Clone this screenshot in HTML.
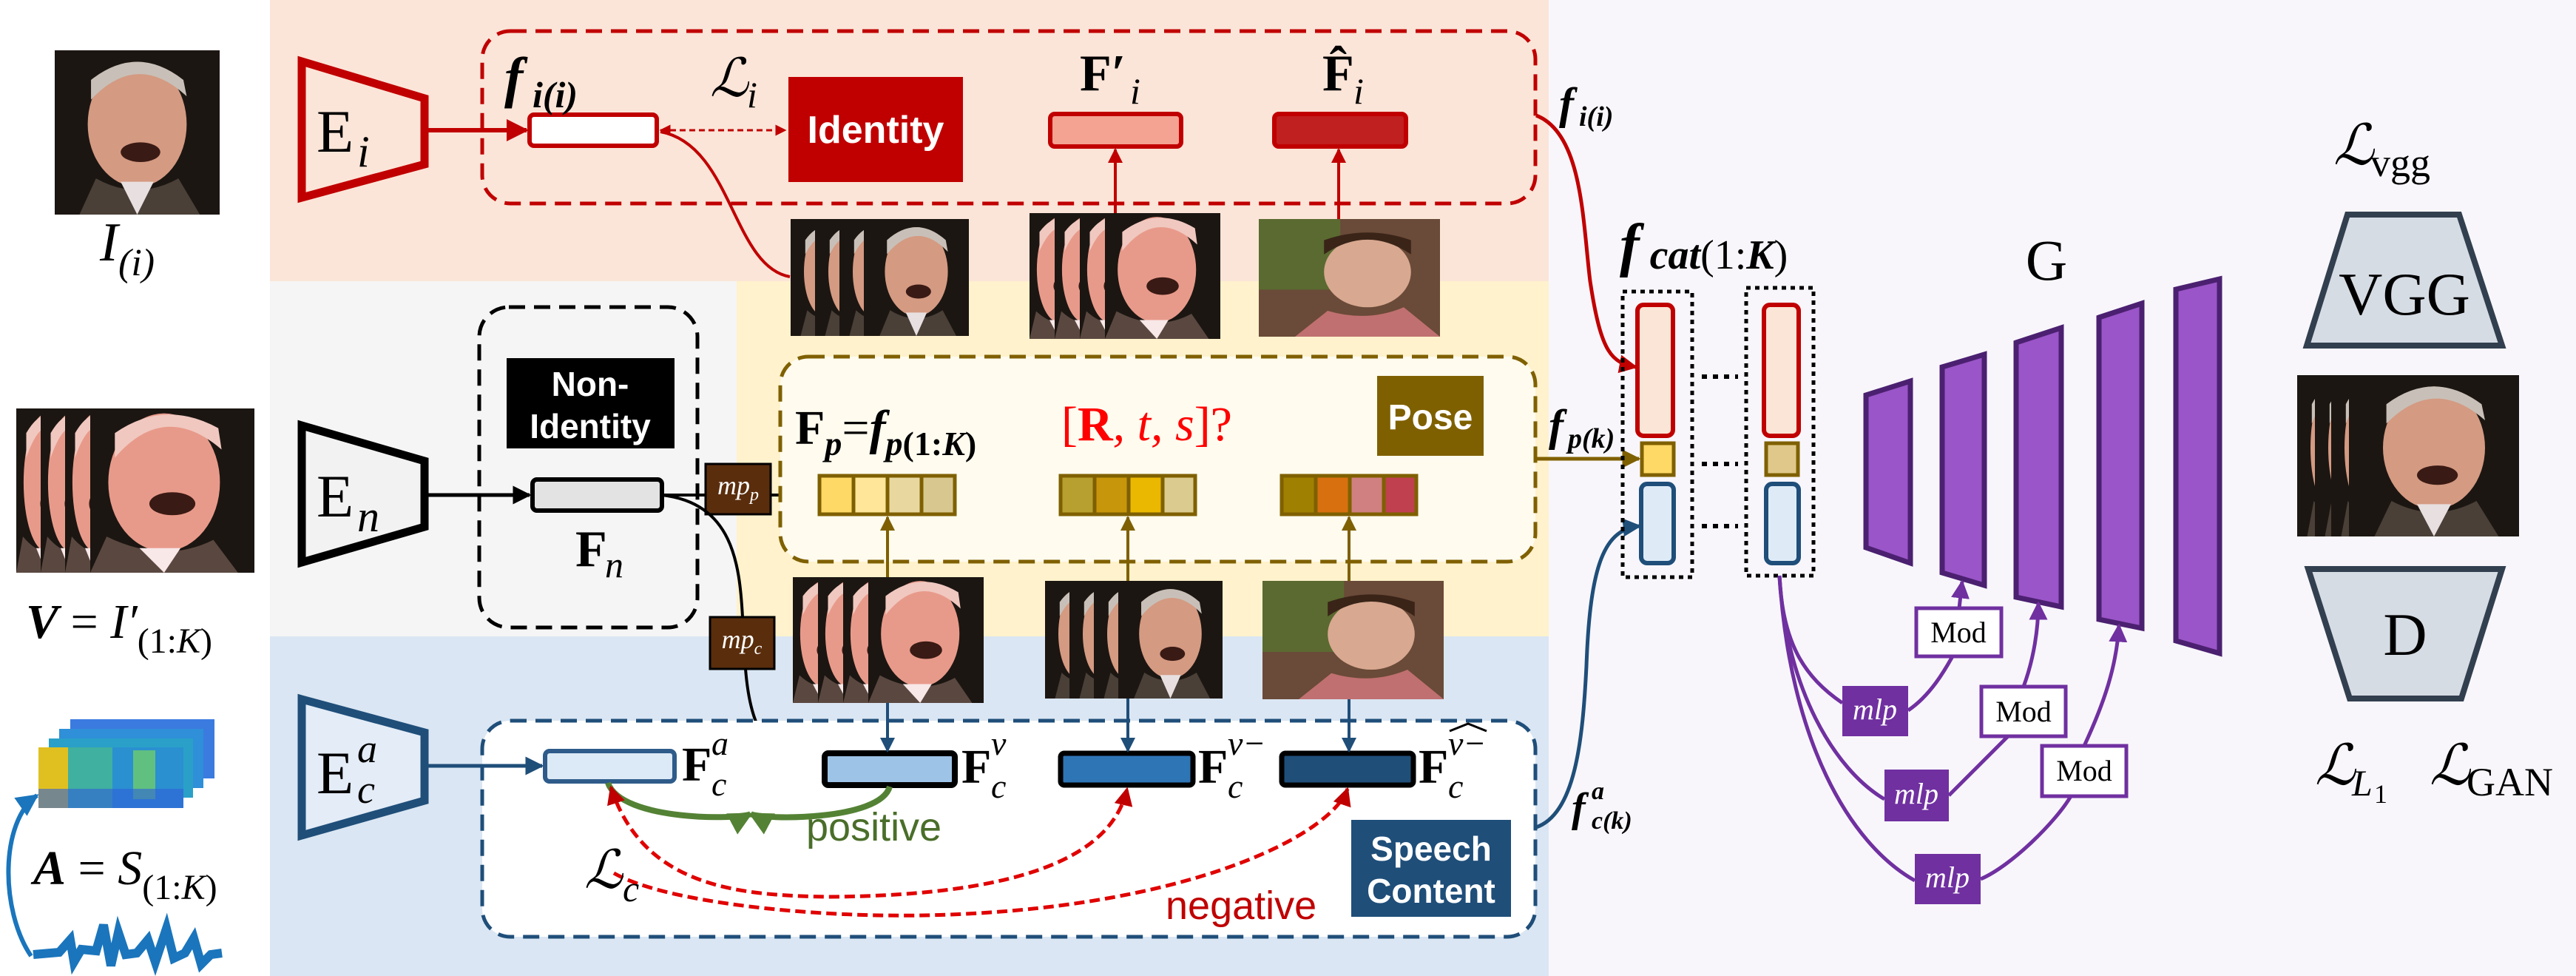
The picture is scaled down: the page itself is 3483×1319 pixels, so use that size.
<!DOCTYPE html>
<html><head><meta charset="utf-8"><style>
html,body{margin:0;padding:0;background:#fff}
svg{display:block}
.m{font-family:"Liberation Serif",serif;font-style:italic}
.r{font-family:"Liberation Serif",serif}
.s{font-family:"Liberation Sans Narrow","Liberation Sans",sans-serif;font-weight:bold}
</style></head><body>
<svg width="3483" height="1319" viewBox="0 0 3483 1319" xmlns="http://www.w3.org/2000/svg">
<defs>
<marker id="ar" viewBox="0 0 10 10" refX="9" refY="5" markerWidth="5" markerHeight="5" orient="auto-start-reverse"><path d="M0,0L10,5L0,10z" fill="#c00000"/></marker>
<marker id="ak" viewBox="0 0 10 10" refX="9" refY="5" markerWidth="5" markerHeight="5" orient="auto-start-reverse"><path d="M0,0L10,5L0,10z" fill="#000"/></marker>
<marker id="ao" viewBox="0 0 10 10" refX="9" refY="5" markerWidth="5" markerHeight="5" orient="auto-start-reverse"><path d="M0,0L10,5L0,10z" fill="#7f6000"/></marker>
<marker id="ab" viewBox="0 0 10 10" refX="9" refY="5" markerWidth="5" markerHeight="5" orient="auto-start-reverse"><path d="M0,0L10,5L0,10z" fill="#1f4e79"/></marker>
<marker id="ab2" viewBox="0 0 10 10" refX="9" refY="5" markerWidth="5" markerHeight="5" orient="auto-start-reverse"><path d="M0,0L10,5L0,10z" fill="#1a75bc"/></marker>
<marker id="ag" viewBox="0 0 10 10" refX="9" refY="5" markerWidth="4" markerHeight="4" orient="auto-start-reverse"><path d="M0,0L10,5L0,10z" fill="#548235"/></marker>
<marker id="ap" viewBox="0 0 10 10" refX="9" refY="5" markerWidth="5" markerHeight="5" orient="auto-start-reverse"><path d="M0,0L10,5L0,10z" fill="#7030a0"/></marker>
<symbol id="old" viewBox="0 0 100 100" preserveAspectRatio="none">
<rect width="100" height="100" fill="#1c1612"/>
<ellipse cx="50" cy="45" rx="30" ry="38" fill="#d49a82"/>
<path d="M22,30 Q50,0 80,28 L78,18 Q50,-4 22,18z" fill="#c8c0b8"/>
<path d="M15,100 L25,78 Q50,92 75,78 L88,100z" fill="#4a4038"/>
<path d="M40,80 L50,100 L60,80z" fill="#e8e0e0"/>
<ellipse cx="52" cy="62" rx="12" ry="6" fill="#3a1a14"/>
</symbol>
<symbol id="oldp" viewBox="0 0 100 100" preserveAspectRatio="none">
<rect width="100" height="100" fill="#1c1612"/>
<ellipse cx="45" cy="45" rx="34" ry="42" fill="#e89a8a"/>
<path d="M15,30 Q45,-5 80,25 L78,12 Q45,-6 15,15z" fill="#f0c8c0"/>
<path d="M0,100 L10,78 Q45,95 75,80 L90,100z" fill="#5a4840"/>
<path d="M30,85 L45,100 L55,85z" fill="#f8e8e8"/>
<ellipse cx="50" cy="58" rx="14" ry="7" fill="#3a1a14"/>
</symbol>
<symbol id="young" viewBox="0 0 100 100" preserveAspectRatio="none">
<rect width="100" height="100" fill="#6a4a38"/>
<rect width="45" height="60" fill="#5a6a30"/>
<ellipse cx="60" cy="45" rx="24" ry="30" fill="#d8a890"/>
<path d="M36,30 Q60,5 84,30 L84,18 Q60,5 36,18z" fill="#3a2418"/>
<path d="M20,100 L38,78 Q60,88 80,75 L100,100z" fill="#c07070"/>
</symbol>
</defs>

<rect x="0" y="0" width="3483" height="1319" fill="#fff"/>
<rect x="2094" y="0" width="1389" height="1319" fill="#f8f6fb"/>
<rect x="365" y="0" width="1729" height="380" fill="#fbe5d8"/>
<rect x="365" y="380" width="631" height="480" fill="#f5f5f5"/>
<rect x="996" y="380" width="1098" height="480" fill="#fff2cc"/>
<rect x="365" y="860" width="1729" height="459" fill="#dae6f3"/>

<use href="#old" x="74" y="68" width="223" height="222"/>
<text class="m" x="135" y="352" font-size="74">I</text><text class="m" x="160" y="372" font-size="52">(i)</text>
<use href="#oldp" x="22" y="552" width="90" height="222"/>
<use href="#oldp" x="55" y="552" width="90" height="222"/>
<use href="#oldp" x="88" y="552" width="90" height="222"/>
<use href="#oldp" x="122" y="552" width="222" height="222"/>
<text x="35" y="862" font-size="66"><tspan class="m" font-weight="bold">V</tspan><tspan class="r"> = </tspan><tspan class="m">I′</tspan><tspan class="r" font-size="48" dy="20">(1:</tspan><tspan class="m" font-size="48">K</tspan><tspan class="r" font-size="48">)</tspan></text>
<g>
<rect x="95" y="972" width="195" height="80" fill="#3b7be0"/>
<rect x="80" y="985" width="195" height="80" fill="#2f8fd8"/>
<rect x="66" y="998" width="195" height="80" fill="#2aa0c8"/>
<rect x="52" y="1010" width="196" height="82" fill="#2a90d0"/>
<rect x="52" y="1010" width="40" height="82" fill="#e0c020"/>
<rect x="92" y="1010" width="60" height="82" fill="#40b0a0"/>
<rect x="180" y="1014" width="30" height="66" fill="#60c080"/>
<rect x="52" y="1066" width="196" height="26" fill="#3060d8" opacity="0.6"/>
</g>
<text x="45" y="1195" font-size="66"><tspan class="m" font-weight="bold">A</tspan><tspan class="r"> = </tspan><tspan class="m">S</tspan><tspan class="r" font-size="48" dy="20">(1:</tspan><tspan class="m" font-size="48">K</tspan><tspan class="r" font-size="48">)</tspan></text>
<path d="M45,1290 L80,1287 L95,1270 L100,1300 L110,1283 L130,1285 L140,1250 L150,1305 L160,1260 L170,1290 L185,1288 L200,1270 L210,1300 L225,1255 L235,1295 L250,1288 L262,1268 L272,1303 L285,1290 L300,1288" stroke="#1a75bc" stroke-width="12" fill="none"/>
<path d="M42,1292 C0,1230 0,1110 50,1075" stroke="#1a75bc" stroke-width="6" fill="none" marker-end="url(#ab2)"/>

<path d="M408,83 L574,133 L574,222 L408,267z" fill="#fbe5d8" stroke="#c00000" stroke-width="11"/>
<text class="r" x="428" y="205" font-size="82">E</text><text class="m" x="483" y="225" font-size="60">i</text>
<path d="M408,575 L574,623 L574,712 L408,760z" fill="#f2f2f2" stroke="#000" stroke-width="11"/>
<text class="r" x="428" y="698" font-size="82">E</text><text class="m" x="483" y="718" font-size="60">n</text>
<path d="M408,945 L574,990 L574,1082 L408,1129z" fill="#e3ecf7" stroke="#1f4e79" stroke-width="11"/>
<text class="r" x="428" y="1072" font-size="82">E</text><text class="m" x="483" y="1030" font-size="54">a</text><text class="m" x="483" y="1085" font-size="54">c</text>

<rect x="652" y="42" width="1424" height="233" rx="38" fill="none" stroke="#c00000" stroke-width="5" stroke-dasharray="22,12"/>
<line x1="579" y1="176" x2="712" y2="176" stroke="#c00000" stroke-width="6" marker-end="url(#ar)"/>
<rect x="716" y="155" width="172" height="42" rx="6" fill="#fff" stroke="#c00000" stroke-width="6"/>
<text class="m" x="682" y="130" font-size="76" font-weight="bold">f</text><text class="m" x="720" y="145" font-size="50" font-weight="bold">i(i)</text>
<text class="m" x="960" y="130" font-size="72">ℒ</text><text class="m" x="1010" y="145" font-size="50">i</text>
<line x1="893" y1="176" x2="1062" y2="176" stroke="#c00000" stroke-width="3" stroke-dasharray="8,5" marker-start="url(#ar)" marker-end="url(#ar)"/>
<rect x="1066" y="104" width="236" height="142" fill="#c00000"/>
<text class="s" x="1184" y="193" font-size="52" fill="#fff" text-anchor="middle">Identity</text>
<text class="r" x="1460" y="122" font-size="70" font-weight="bold">F′</text><text class="m" x="1528" y="140" font-size="50">i</text>
<rect x="1420" y="154" width="177" height="44" rx="6" fill="#f4a292" stroke="#c00000" stroke-width="6"/>
<text class="r" x="1788" y="122" font-size="70" font-weight="bold">F̂</text><text class="m" x="1830" y="140" font-size="50">i</text>
<rect x="1723" y="154" width="178" height="44" rx="6" fill="#c0201f" stroke="#c00000" stroke-width="6"/>
<line x1="1508" y1="290" x2="1508" y2="202" stroke="#c00000" stroke-width="4" marker-end="url(#ar)"/>
<line x1="1810" y1="296" x2="1810" y2="202" stroke="#c00000" stroke-width="4" marker-end="url(#ar)"/>
<path d="M1068,374 C990,360 990,196 893,178" stroke="#c00000" stroke-width="4" fill="none"/>
<use href="#old" x="1069" y="296" width="90" height="158"/>
<use href="#old" x="1102" y="296" width="90" height="158"/>
<use href="#old" x="1135" y="296" width="90" height="158"/>
<use href="#old" x="1168" y="296" width="142" height="158"/>
<use href="#oldp" x="1392" y="288" width="90" height="170"/>
<use href="#oldp" x="1426" y="288" width="90" height="170"/>
<use href="#oldp" x="1460" y="288" width="90" height="170"/>
<use href="#oldp" x="1494" y="288" width="156" height="170"/>
<use href="#young" x="1702" y="296" width="245" height="159"/>

<rect x="648" y="415" width="295" height="433" rx="40" fill="none" stroke="#000" stroke-width="5" stroke-dasharray="22,12"/>
<rect x="685" y="484" width="227" height="122" fill="#000"/>
<text class="s" x="798" y="535" font-size="46" fill="#fff" text-anchor="middle">Non-</text>
<text class="s" x="798" y="592" font-size="46" fill="#fff" text-anchor="middle">Identity</text>
<line x1="579" y1="669" x2="716" y2="669" stroke="#000" stroke-width="5" marker-end="url(#ak)"/>
<rect x="720" y="648" width="175" height="42" rx="6" fill="#e3e3e3" stroke="#000" stroke-width="6"/>
<text class="r" x="778" y="765" font-size="70" font-weight="bold">F</text><text class="m" x="818" y="780" font-size="50">n</text>
<line x1="895" y1="669" x2="954" y2="669" stroke="#000" stroke-width="4"/>
<rect x="954" y="627" width="88" height="68" fill="#5a2d0c" stroke="#000" stroke-width="3"/>
<text class="m" x="998" y="668" font-size="36" fill="#fff" text-anchor="middle">mp<tspan font-size="24" dy="8">p</tspan></text>
<line x1="1042" y1="669" x2="1104" y2="669" stroke="#000" stroke-width="4" marker-end="url(#ak)"/>
<path d="M895,669 C990,680 1000,760 1004,834" stroke="#000" stroke-width="4" fill="none"/>
<rect x="960" y="834" width="87" height="70" fill="#5a2d0c" stroke="#000" stroke-width="3"/>
<text class="m" x="1003" y="876" font-size="36" fill="#fff" text-anchor="middle">mp<tspan font-size="24" dy="8">c</tspan></text>
<path d="M1008,904 C1015,990 1040,1030 1110,1038" stroke="#000" stroke-width="4" fill="none" marker-end="url(#ak)"/>

<rect x="1055" y="482" width="1021" height="277" rx="38" fill="#fffbef" stroke="#7f6000" stroke-width="5" stroke-dasharray="22,12"/>
<text x="1075" y="600" font-size="66"><tspan class="r" font-weight="bold">F</tspan><tspan class="m" font-size="46" dy="15" font-weight="bold">p</tspan><tspan class="r" dy="-15">=</tspan><tspan class="m" font-weight="bold">f</tspan><tspan class="m" font-size="46" dy="15" font-weight="bold">p</tspan><tspan class="r" font-size="46" font-weight="bold">(1:</tspan><tspan class="m" font-size="46" font-weight="bold">K</tspan><tspan class="r" font-size="46" font-weight="bold">)</tspan></text>
<text x="1435" y="595" font-size="66" fill="#ff0000"><tspan class="r">[</tspan><tspan class="r" font-weight="bold">R</tspan><tspan class="m">, t, s</tspan><tspan class="r">]?</tspan></text>
<rect x="1862" y="508" width="144" height="108" fill="#7f6000"/>
<text class="s" x="1934" y="580" font-size="48" fill="#fff" text-anchor="middle">Pose</text>
<g stroke="#7f6000" stroke-width="5">
<rect x="1108" y="643" width="46" height="52" fill="#ffd966"/><rect x="1154" y="643" width="46" height="52" fill="#ffe699"/><rect x="1200" y="643" width="46" height="52" fill="#e8d8a0"/><rect x="1246" y="643" width="45" height="52" fill="#d8c890"/>
<rect x="1434" y="643" width="46" height="52" fill="#b8a030"/><rect x="1480" y="643" width="46" height="52" fill="#c8960a"/><rect x="1526" y="643" width="46" height="52" fill="#eab800"/><rect x="1572" y="643" width="44" height="52" fill="#dccb8e"/>
<rect x="1733" y="643" width="46" height="52" fill="#a08000"/><rect x="1779" y="643" width="46" height="52" fill="#d87010"/><rect x="1825" y="643" width="46" height="52" fill="#d08080"/><rect x="1871" y="643" width="44" height="52" fill="#c04050"/>
</g>
<line x1="1200" y1="782" x2="1200" y2="699" stroke="#7f6000" stroke-width="4" marker-end="url(#ao)"/>
<line x1="1525" y1="786" x2="1525" y2="699" stroke="#7f6000" stroke-width="4" marker-end="url(#ao)"/>
<line x1="1824" y1="786" x2="1824" y2="699" stroke="#7f6000" stroke-width="4" marker-end="url(#ao)"/>
<use href="#oldp" x="1072" y="780" width="90" height="170"/>
<use href="#oldp" x="1106" y="780" width="90" height="170"/>
<use href="#oldp" x="1140" y="780" width="90" height="170"/>
<use href="#oldp" x="1174" y="780" width="156" height="170"/>
<use href="#old" x="1413" y="785" width="90" height="159"/>
<use href="#old" x="1446" y="785" width="90" height="159"/>
<use href="#old" x="1479" y="785" width="90" height="159"/>
<use href="#old" x="1512" y="785" width="141" height="159"/>
<use href="#young" x="1707" y="785" width="245" height="160"/>

<rect x="652" y="974" width="1424" height="292" rx="38" fill="#fff" stroke="#1f4e79" stroke-width="5" stroke-dasharray="22,12"/>
<line x1="579" y1="1035" x2="733" y2="1035" stroke="#1f4e79" stroke-width="5" marker-end="url(#ab)"/>
<rect x="737" y="1015" width="175" height="41" rx="6" fill="#dce9f6" stroke="#2e5b8a" stroke-width="6"/>
<rect x="1115" y="1018" width="176" height="43" rx="5" fill="#9dc3e6" stroke="#000" stroke-width="8"/>
<rect x="1434" y="1018" width="179" height="43" rx="5" fill="#2e75b6" stroke="#000" stroke-width="7"/>
<rect x="1733" y="1018" width="178" height="43" rx="5" fill="#1f4e79" stroke="#000" stroke-width="7"/>
<line x1="1200" y1="950" x2="1200" y2="1015" stroke="#1f4e79" stroke-width="4" marker-end="url(#ab)"/>
<line x1="1525" y1="944" x2="1525" y2="1015" stroke="#1f4e79" stroke-width="4" marker-end="url(#ab)"/>
<line x1="1824" y1="945" x2="1824" y2="1015" stroke="#1f4e79" stroke-width="4" marker-end="url(#ab)"/>
<g class="r" font-weight="bold" font-size="66">
<text x="922" y="1055">F</text><text x="1300" y="1058">F</text><text x="1620" y="1058">F</text><text x="1918" y="1058">F</text></g>
<g class="m" font-size="46">
<text x="962" y="1020">a</text><text x="962" y="1075">c</text>
<text x="1340" y="1020">v</text><text x="1340" y="1078">c</text>
<text x="1660" y="1020">v−</text><text x="1660" y="1078">c</text>
<text x="1958" y="1020">v−</text><text x="1958" y="1078">c</text></g>
<path d="M1960,988 L1985,978 L2010,988" stroke="#000" stroke-width="3" fill="none"/>
<path d="M822,1058 C840,1110 1000,1108 1015,1100" stroke="#548235" stroke-width="8" fill="none" marker-end="url(#ag)"/>
<path d="M1203,1063 C1190,1110 1030,1108 1015,1100" stroke="#548235" stroke-width="8" fill="none" marker-end="url(#ag)"/>
<text x="1090" y="1136" font-family="Liberation Sans Narrow,Liberation Sans,sans-serif" font-size="54" fill="#4a6e2a">positive</text>
<path d="M826,1064 C870,1200 1000,1210 1120,1212 C1400,1210 1505,1150 1524,1066" stroke="#e00000" stroke-width="5" fill="none" stroke-dasharray="14,7" marker-start="url(#ar)" marker-end="url(#ar)"/>
<path d="M830,1180 C900,1220 1100,1240 1250,1237 C1600,1230 1800,1130 1822,1066" stroke="#e00000" stroke-width="5" fill="none" stroke-dasharray="14,7" marker-end="url(#ar)"/>
<text x="1576" y="1242" font-family="Liberation Sans Narrow,Liberation Sans,sans-serif" font-size="54" fill="#c00000">negative</text>
<text class="m" x="790" y="1200" font-size="72">ℒ</text><text class="m" x="842" y="1218" font-size="50">c</text>
<rect x="1827" y="1108" width="216" height="131" fill="#1f4e79"/>
<text class="s" x="1935" y="1163" font-size="46" fill="#fff" text-anchor="middle">Speech</text>
<text class="s" x="1935" y="1220" font-size="46" fill="#fff" text-anchor="middle">Content</text>

<path d="M2077,156 C2140,180 2140,300 2150,380 C2165,480 2180,490 2212,496" stroke="#c00000" stroke-width="5" fill="none" marker-end="url(#ar)"/>
<text class="m" x="2108" y="160" font-size="60" font-weight="bold">f</text><text class="m" x="2135" y="170" font-size="38" font-weight="bold">i(i)</text>
<line x1="2077" y1="620" x2="2216" y2="620" stroke="#7f6000" stroke-width="5" marker-end="url(#ao)"/>
<text class="m" x="2094" y="595" font-size="60" font-weight="bold">f</text><text class="m" x="2120" y="605" font-size="38" font-weight="bold">p(k)</text>
<path d="M2077,1118 C2130,1100 2140,1000 2145,900 C2150,760 2170,715 2217,711" stroke="#1f4e79" stroke-width="5" fill="none" marker-end="url(#ab)"/>
<text class="m" x="2125" y="1110" font-size="56" font-weight="bold">f</text><text class="m" x="2152" y="1080" font-size="34" font-weight="bold">a</text><text class="m" x="2152" y="1120" font-size="34" font-weight="bold">c(k)</text>
<text x="2190" y="358" font-size="80"><tspan class="m" font-weight="bold">f</tspan><tspan class="m" font-weight="bold" font-size="56" dy="5"> cat</tspan><tspan class="r" font-size="56">(1:</tspan><tspan class="m" font-size="56" font-weight="bold">K</tspan><tspan class="r" font-size="56">)</tspan></text>
<rect x="2194" y="394" width="94" height="386" fill="none" stroke="#000" stroke-width="5" stroke-dasharray="6,6"/>
<rect x="2361" y="389" width="91" height="389" fill="none" stroke="#000" stroke-width="5" stroke-dasharray="6,6"/>
<rect x="2214" y="412" width="48" height="177" rx="8" fill="#fbe5d6" stroke="#c00000" stroke-width="6"/>
<rect x="2220" y="599" width="43" height="43" fill="#ffd966" stroke="#7f6000" stroke-width="5"/>
<rect x="2219" y="654" width="44" height="107" rx="8" fill="#deebf7" stroke="#1f4e79" stroke-width="6"/>
<rect x="2385" y="412" width="47" height="177" rx="8" fill="#fbe5d6" stroke="#c00000" stroke-width="6"/>
<rect x="2388" y="599" width="43" height="43" fill="#dfc88a" stroke="#7f6000" stroke-width="5"/>
<rect x="2388" y="654" width="44" height="107" rx="8" fill="#deebf7" stroke="#1f4e79" stroke-width="6"/>
<g stroke="#000" stroke-width="6" stroke-dasharray="7,8"><line x1="2301" y1="509" x2="2350" y2="509"/><line x1="2301" y1="627" x2="2350" y2="627"/><line x1="2301" y1="711" x2="2350" y2="711"/></g>

<text class="r" x="2767" y="378" font-size="78" text-anchor="middle">G</text>
<g fill="#9a55c8" stroke="#4b2070" stroke-width="7">
<path d="M2523,534 L2583,515 L2583,761 L2523,740z"/>
<path d="M2626,496 L2683,479 L2683,791 L2626,774z"/>
<path d="M2726,463 L2787,443 L2787,820 L2726,807z"/>
<path d="M2838,429 L2896,410 L2896,849 L2838,837z"/>
<path d="M2942,391 L3001,377 L3001,883 L2942,866z"/>
</g>
<g stroke="#7030a0" stroke-width="5" fill="none">
<path d="M2406,778 C2410,870 2440,915 2491,950"/>
<path d="M2406,778 C2415,930 2480,1040 2548,1080"/>
<path d="M2406,778 C2420,1000 2500,1140 2589,1190"/>
<path d="M2580,960 C2610,940 2630,905 2640,887"/>
<path d="M2635,1075 C2660,1050 2700,1010 2715,995"/>
<path d="M2678,1188 C2720,1170 2780,1110 2800,1076"/>
<path d="M2649,822 L2653,786" marker-end="url(#ap)"/>
<path d="M2736,928 C2750,890 2756,850 2756,815" marker-end="url(#ap)"/>
<path d="M2818,1008 C2845,950 2862,900 2865,845" marker-end="url(#ap)"/>
</g>
<g fill="#7030a0"><rect x="2491" y="927" width="89" height="68"/><rect x="2548" y="1040" width="87" height="70"/><rect x="2589" y="1154" width="89" height="68"/></g>
<g class="m" font-size="40" fill="#fff" text-anchor="middle"><text x="2535" y="972">mlp</text><text x="2591" y="1086">mlp</text><text x="2633" y="1199">mlp</text></g>
<g fill="#fff" stroke="#7030a0" stroke-width="5"><rect x="2591" y="822" width="115" height="65"/><rect x="2679" y="928" width="114" height="67"/><rect x="2761" y="1008" width="114" height="68"/></g>
<g class="r" font-size="40" text-anchor="middle"><text x="2648" y="868">Mod</text><text x="2736" y="975">Mod</text><text x="2818" y="1055">Mod</text></g>

<text class="m" x="3155" y="222" font-size="76">ℒ</text><text class="r" x="3205" y="238" font-size="54">vgg</text>
<path d="M3174,290 L3325,290 L3383,467 L3119,467z" fill="#d6dce4" stroke="#323f4f" stroke-width="8"/>
<text class="r" x="3251" y="425" font-size="82" text-anchor="middle">VGG</text>
<use href="#old" x="3106" y="507" width="90" height="218"/>
<use href="#old" x="3130" y="507" width="90" height="218"/>
<use href="#old" x="3152" y="507" width="90" height="218"/>
<use href="#old" x="3176" y="507" width="230" height="218"/>
<path d="M3121,769 L3383,769 L3328,944 L3177,944z" fill="#d6dce4" stroke="#323f4f" stroke-width="8"/>
<text class="r" x="3252" y="885" font-size="82" text-anchor="middle">D</text>
<text class="m" x="3130" y="1060" font-size="76">ℒ</text><text class="m" x="3180" y="1075" font-size="50">L</text><text class="r" x="3210" y="1085" font-size="36">1</text>
<text class="m" x="3285" y="1060" font-size="76">ℒ</text><text class="r" x="3335" y="1075" font-size="54">GAN</text>
</svg>
</body></html>
